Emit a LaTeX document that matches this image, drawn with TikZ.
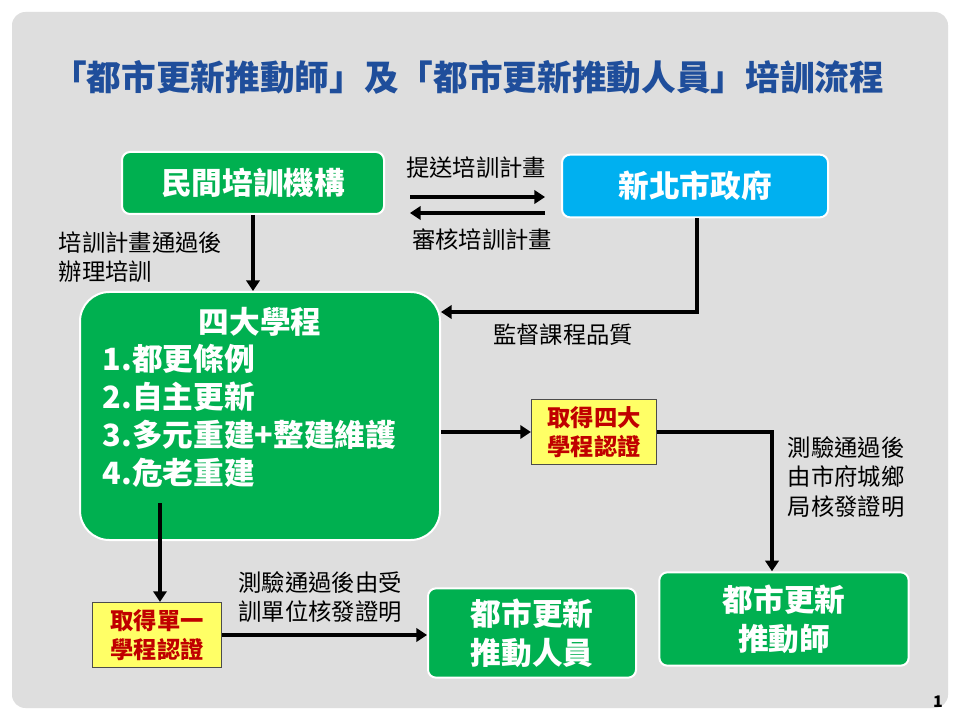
\documentclass[tikz,border=0pt]{standalone}
\usepackage{fontspec}
\setmainfont{Noto Sans CJK TC}
\usetikzlibrary{arrows.meta}
\definecolor{gbox}{HTML}{00B050}
\definecolor{bbox}{HTML}{00B0F0}
\definecolor{ttl}{HTML}{1F4E9B}
\definecolor{ybox}{HTML}{FFFF66}
\definecolor{rtx}{HTML}{C00000}
\begin{document}
\begin{tikzpicture}[x=0.75pt,y=-0.75pt,
  gb/.style={draw=white,line width=1.5pt,fill=gbox,rounded corners=6pt,text=white,font=\fontsize{23}{29}\selectfont\bfseries,align=center},
  yb/.style={draw=black!70,line width=0.6pt,fill=ybox,text=rtx,font=\fontsize{17.5}{22}\selectfont\bfseries,align=center},
  lb/.style={font=\fontsize{17.5}{22}\selectfont,align=left,text=black},
  ar/.style={line width=2.5pt,-{Triangle[length=8pt,width=10pt]}}]
\useasboundingbox (0,0) rectangle (960,720);
\fill[white] (0,0) rectangle (960,720);
\fill[black!13,rounded corners=10pt] (12,12) rectangle (948,708);
\node[text=ttl,font=\fontsize{26}{32}\selectfont\bfseries] (title) at (468,77) {「都市更新推動師」及「都市更新推動人員」培訓流程};
\node[gb,minimum width=196.5pt,minimum height=46.5pt] (org) at (253,183) {民間培訓機構};
\node[gb,fill=bbox,minimum width=199.5pt,minimum height=47pt] (gov) at (695,186) {新北市政府};
\coordinate (a1s) at (410,197); \coordinate (a1e) at (545,197);
\draw[ar] (a1s) -- (a1e);
\coordinate (a2s) at (545,213); \coordinate (a2e) at (410,213);
\draw[ar] (a2s) -- (a2e);
\node[lb] (l1) at (476,168) {提送培訓計畫};
\node[lb] (l2) at (482,240) {審核培訓計畫};
\node[gb,rounded corners=22pt,minimum width=270pt,minimum height=186pt] (four) at (260,416) {};
\node[text=white,font=\fontsize{23}{29}\selectfont\bfseries] (ft) at (260,322) {四大學程};
\node[text=white,font=\fontsize{23}{28.5}\selectfont\bfseries,align=left,anchor=north west] (fl) at (98,340) {1.都更條例\\2.自主更新\\3.多元重建+整建維護\\4.危老重建};
\draw[ar] (org.south) -- (four.north -| org.south);
\node[lb,anchor=west] (l3) at (54,257) {培訓計畫通過後\\辦理培訓};
\coordinate (g1) at (697,312);
\draw[ar] (gov.south -| g1) -- (g1) -- (g1 -| four.east);
\node[lb] (l4) at (563,335) {監督課程品質};
\node[yb,minimum width=94pt,minimum height=49pt] (y4) at (594,432) {取得四大\\學程認證};
\draw[ar] (four.east |- y4) -- (y4.west);
\node[gb,minimum width=187pt,minimum height=70pt] (tch) at (784,619) {都市更新\\推動師};
\coordinate (c1) at (772,432);
\draw[ar] (y4.east) -- (c1) -- (c1 |- tch.north);
\node[lb] (l5) at (846,477) {測驗通過後\\由市府城鄉\\局核發證明};
\node[yb,minimum width=97pt,minimum height=49pt] (y1) at (157,635) {取得單一\\學程認證};
\draw[ar] (160,503) -- (y1.north -| 160,0);
\node[gb,minimum width=156pt,minimum height=67pt] (ppl) at (532,633) {都市更新\\推動人員};
\draw[ar] (y1.east) -- (ppl.west |- y1.east);
\node[lb] (l6) at (320,597) {測驗通過後由受\\訓單位核發證明};
\node[font=\fontsize{12}{14}\selectfont\bfseries] (pg) at (938,702) {1};
\end{tikzpicture}
\end{document}
